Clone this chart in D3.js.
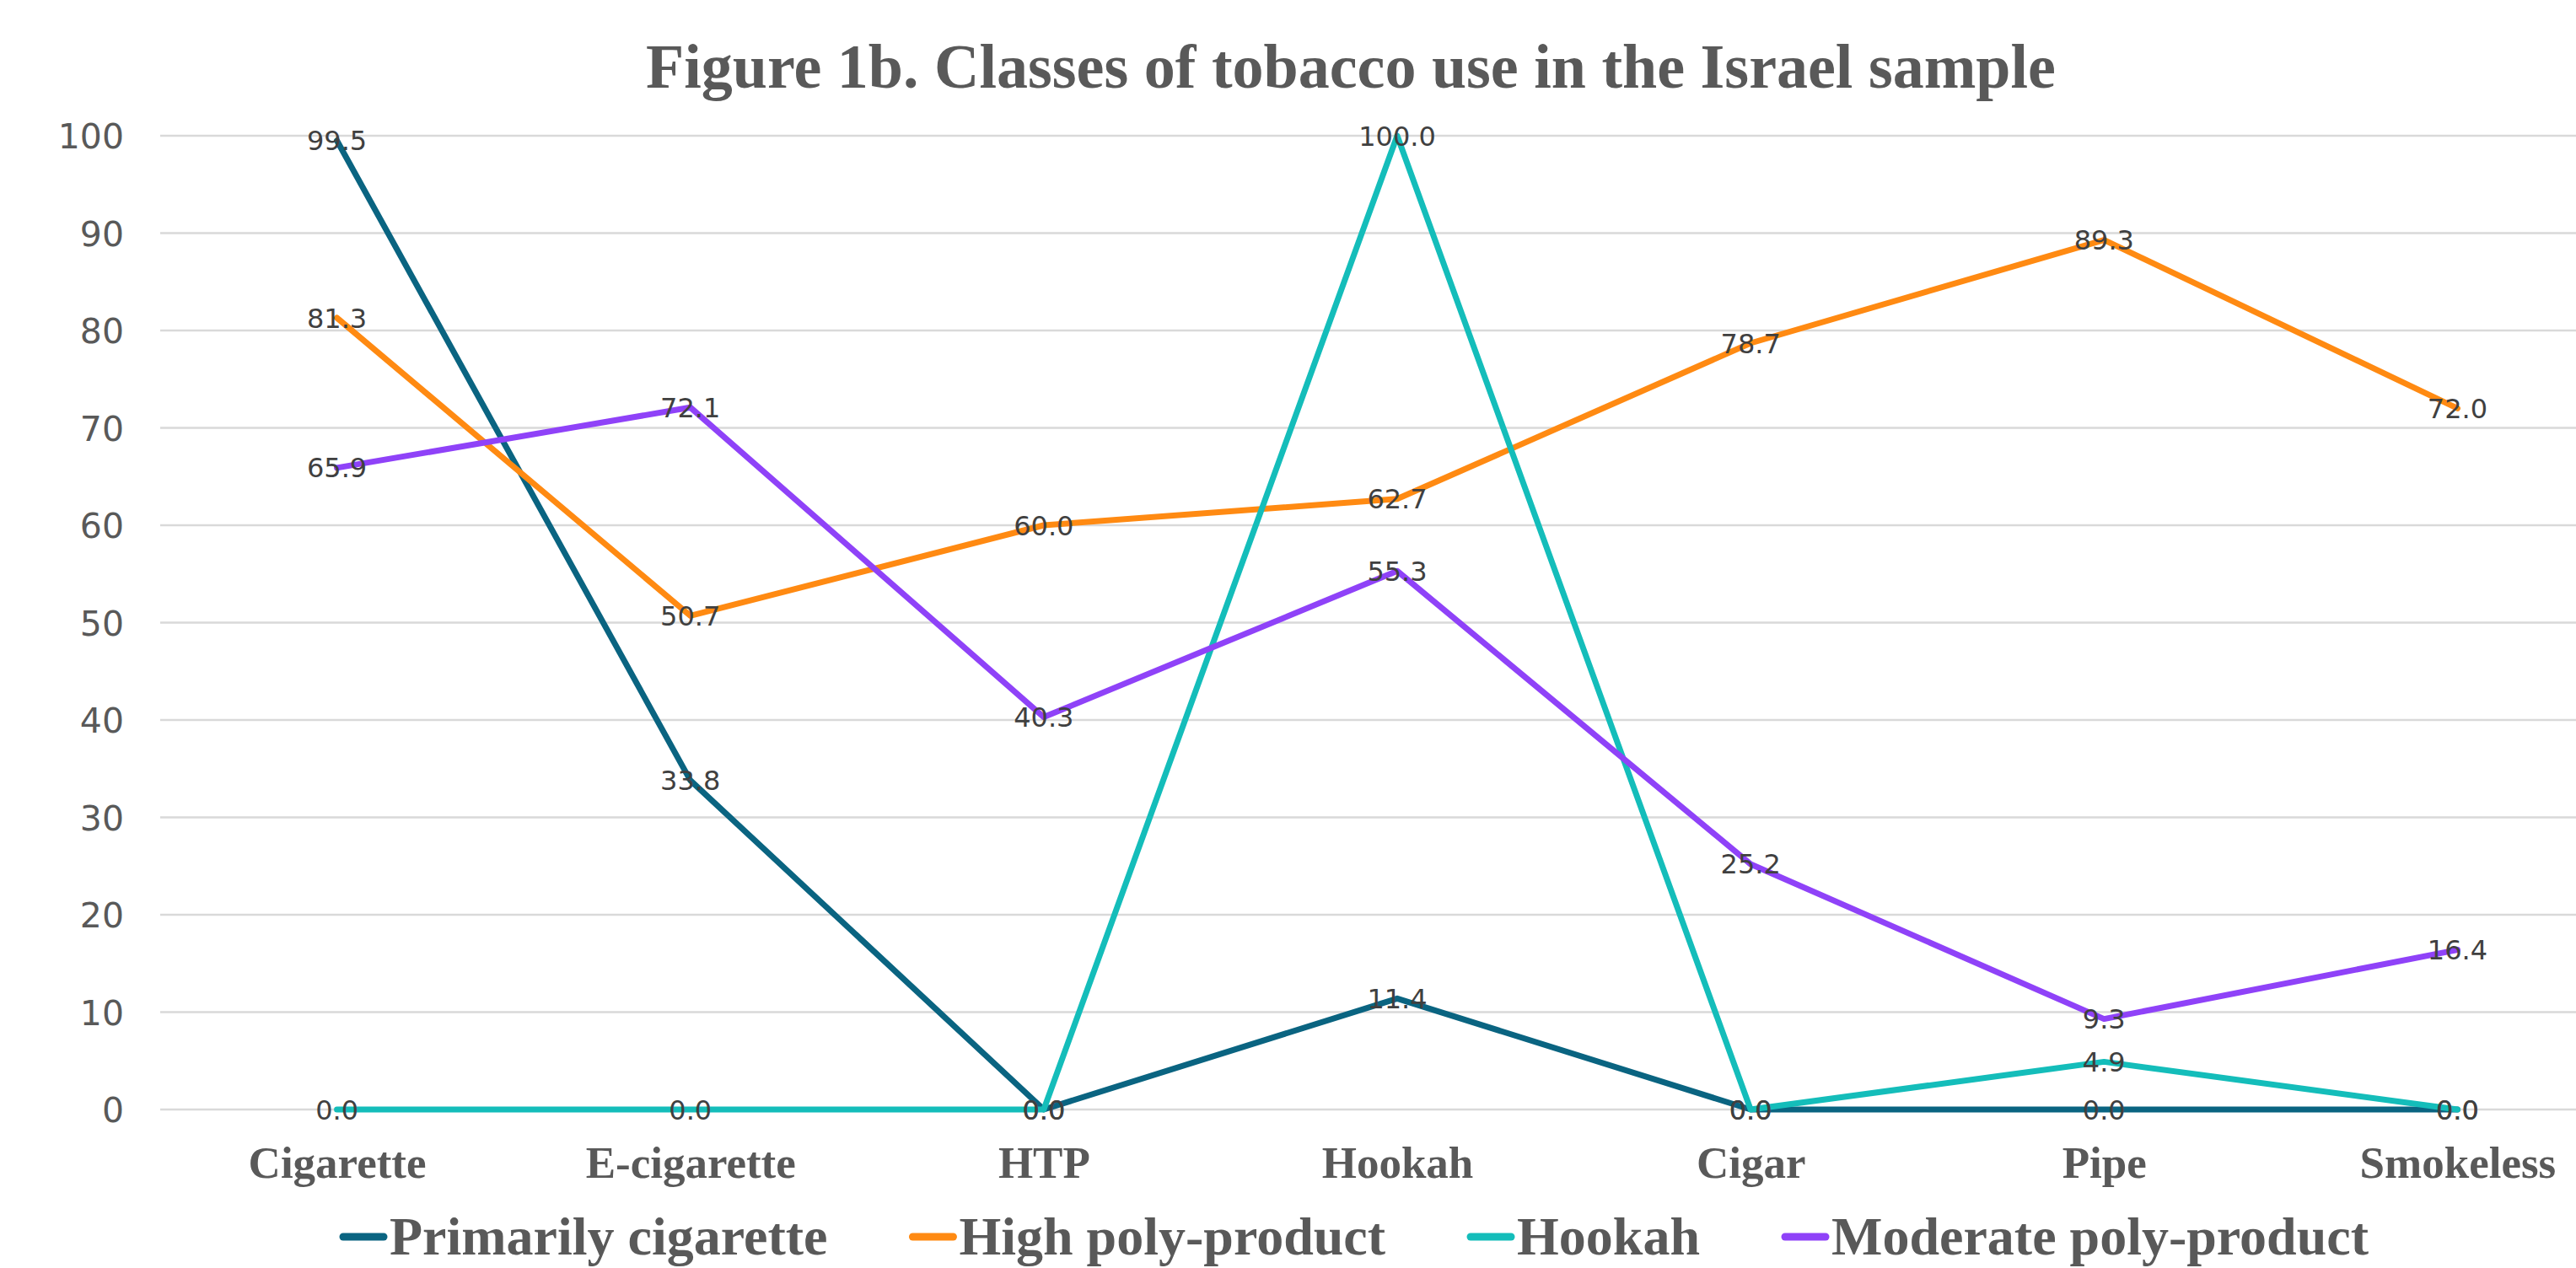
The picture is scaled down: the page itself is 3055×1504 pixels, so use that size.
<!DOCTYPE html>
<html>
<head>
<meta charset="utf-8">
<script src="https://cdn.jsdelivr.net/npm/d3@7"></script>
<style>
  body { margin: 0; background: #fff; }
  svg { display: block; }
</style>
</head>
<body>
<div id="chart"></div>
<script>
// categories on the x axis
var categories = ["Cigarette", "E-cigarette", "HTP", "Hookah", "Cigar", "Pipe", "Smokeless"];

// one list per latent class
var primarilyCigarette = [99.5, 33.8, 0.0, 11.4, 0.0, 0.0, 0.0];
var highPolyProduct = [81.3, 50.7, 60.0, 62.7, 78.7, 89.3, 72.0];
var hookahClass = [0.0, 0.0, 0.0, 100.0, 0.0, 4.9, 0.0];
var moderatePolyProduct = [65.9, 72.1, 40.3, 55.3, 25.2, 9.3, 16.4];

var seriesNames = ["Primarily cigarette", "High poly-product", "Hookah", "Moderate poly-product"];
var seriesColors = ["#0a6481", "#ff8a12", "#14bdba", "#8f42f8"];
var yTicks = [0, 10, 20, 30, 40, 50, 60, 70, 80, 90, 100];

var series = [primarilyCigarette, highPolyProduct, hookahClass, moderatePolyProduct].map(function (vals, i) {
    return { name: seriesNames[i], color: seriesColors[i], values: vals };
});

var width = 3055, height = 1504;

var svg = d3.select("#chart")
    .append("svg")
    .attr("width", width)
    .attr("height", height);

svg.append("rect").attr("width", width).attr("height", height).attr("fill", "#fff");

var x = d3.scalePoint()
    .domain(categories)
    .range([190, 3124])
    .padding(0.5);

var y = d3.scaleLinear()
    .domain([0, 100])
    .range([1316, 161]);

// title
svg.append("text")
    .attr("x", 1602)
    .attr("y", 104)
    .attr("text-anchor", "middle")
    .style("font-family", "'Liberation Serif', 'Times New Roman', serif")
    .style("font-weight", "bold")
    .style("font-size", "74px")
    .style("fill", "#595959")
    .text("Figure 1b. Classes of tobacco use in the Israel sample");

// horizontal gridlines
svg.append("g")
    .selectAll("line")
    .data(yTicks)
    .enter()
    .append("line")
    .attr("x1", 190)
    .attr("x2", width)
    .attr("y1", function (d) { return y(d); })
    .attr("y2", function (d) { return y(d); })
    .attr("stroke", "#d9d9d9")
    .attr("stroke-width", 2.5);

// y axis labels
var yAxis = d3.axisLeft(y).tickValues(yTicks).tickSize(0).tickPadding(0);
var yg = svg.append("g")
    .attr("transform", "translate(147,0)")
    .call(yAxis);
yg.select(".domain").remove();
yg.selectAll("text")
    .attr("dy", "0.36em")
    .style("font-family", "'DejaVu Sans', Verdana, sans-serif")
    .style("font-size", "41px")
    .style("fill", "#595959");

// x axis labels
var xAxis = d3.axisBottom(x).tickSize(0).tickPadding(0);
var xg = svg.append("g")
    .attr("transform", "translate(0,1397)")
    .call(xAxis);
xg.select(".domain").remove();
xg.selectAll("text")
    .attr("y", 0)
    .attr("dy", 0)
    .style("font-family", "'Liberation Serif', 'Times New Roman', serif")
    .style("font-weight", "bold")
    .style("font-size", "53px")
    .style("fill", "#595959");

// lines
var line = d3.line()
    .x(function (d, i) { return x(categories[i]); })
    .y(function (d) { return y(d); });

svg.append("g")
    .selectAll("path")
    .data(series)
    .enter()
    .append("path")
    .attr("d", function (d) { return line(d.values); })
    .attr("fill", "none")
    .attr("stroke", function (d) { return d.color; })
    .attr("stroke-width", 7)
    .attr("stroke-linejoin", "round")
    .attr("stroke-linecap", "round");

// data labels, centred on the points
var labelData = [];
series.forEach(function (s) {
    s.values.forEach(function (v, i) {
        labelData.push({ cat: categories[i], value: v });
    });
});

svg.append("g")
    .selectAll("text")
    .data(labelData)
    .enter()
    .append("text")
    .attr("x", function (d) { return x(d.cat); })
    .attr("y", function (d) { return y(d.value); })
    .attr("dy", "0.36em")
    .attr("text-anchor", "middle")
    .style("font-family", "'DejaVu Sans', Verdana, sans-serif")
    .style("font-size", "32px")
    .style("fill", "#404040")
    .text(function (d) { return d.value.toFixed(1); });

// legend
var legend = svg.append("g").attr("transform", "translate(0,1488)");
var lx = 403;
series.forEach(function (s) {
    legend.append("line")
        .attr("x1", lx + 4)
        .attr("x2", lx + 52)
        .attr("y1", -21)
        .attr("y2", -21)
        .attr("stroke", s.color)
        .attr("stroke-width", 9)
        .attr("stroke-linecap", "round");
    var t = legend.append("text")
        .attr("x", lx + 59)
        .attr("y", 0)
        .style("font-family", "'Liberation Serif', 'Times New Roman', serif")
        .style("font-weight", "bold")
        .style("font-size", "64px")
        .style("fill", "#595959")
        .text(s.name);
    lx += 59 + t.node().getComputedTextLength() + 97;
});
</script>
</body>
</html>
